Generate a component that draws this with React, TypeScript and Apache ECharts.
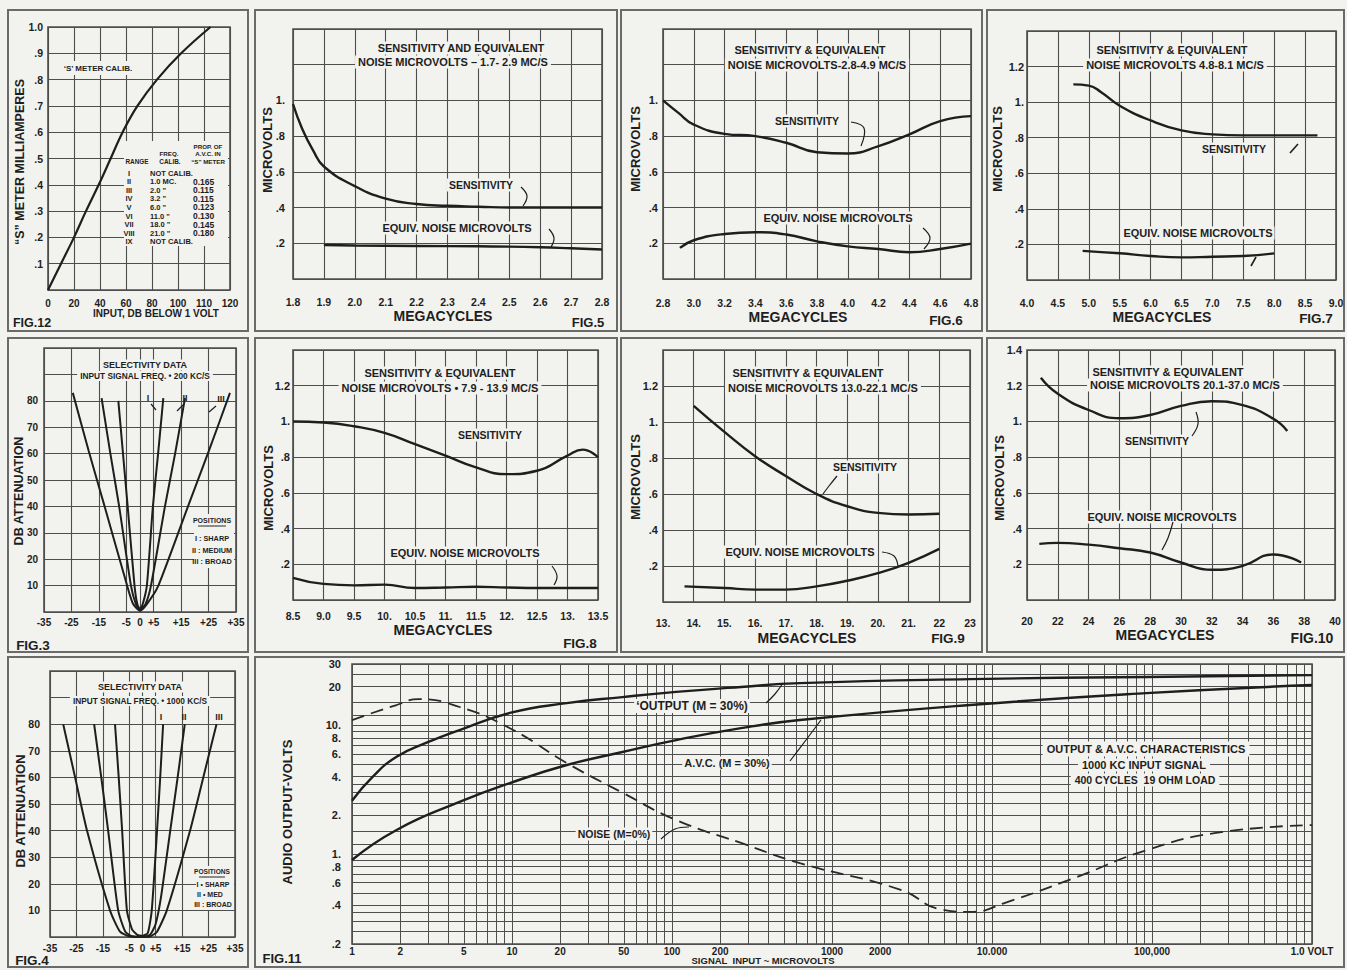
import React, { useEffect, useRef } from 'react';
import * as echarts from 'echarts';

const W = 1347;
const H = 970;
const BG = '#f2f2ee';
const INK = '#1e1e1e';
const GRID_C = '#4e4e4e';
const BORDER_C = '#6a6a6a';
const FONT = '"Liberation Sans", Arial, sans-serif';

// ---------- FIG. 12  S-meter calibration ----------
const FIG12_X_LABELS = ['0', '20', '40', '60', '80', '100', '110', '120'];
const FIG12_Y_LABELS = ['', '.1', '.2', '.3', '.4', '.5', '.6', '.7', '.8', '.9', '1.0'];
const SMETER_POS = [0, 0.5, 1.0, 1.46, 1.95, 2.41, 2.87, 3.44, 4.19, 5.12, 6.25];
const SMETER_MA = [0, 0.1, 0.2, 0.3, 0.4, 0.5, 0.6, 0.7, 0.8, 0.9, 1.0];
const SMETER_RANGE = ['I', 'II', 'III', 'IV', 'V', 'VI', 'VII', 'VIII', 'IX'];
const SMETER_FREQ = ['NOT CALIB.', '1.0 MC.', '2.0 "', '3.2 "', '6.0 "', '11.0 "', '18.0 "', '21.0 "', 'NOT CALIB.'];
const SMETER_PROP = ['', '0.165', '0.115', '0.115', '0.123', '0.130', '0.145', '0.180', ''];

// ---------- sensitivity y labels ----------
const UV_LABELS_A = ['', '.2', '.4', '.6', '.8', '1.', '', ''];
const UV_LABELS_B = ['', '.2', '.4', '.6', '.8', '1.', '1.2', ''];
const UV_LABELS_C = ['', '.2', '.4', '.6', '.8', '1.', '1.2', '1.4'];

// ---------- FIG. 5 ----------
const FIG5_X_LABELS = ['1.8', '1.9', '2.0', '2.1', '2.2', '2.3', '2.4', '2.5', '2.6', '2.7', '2.8'];
const FIG5_SENS_MC = [1.8, 1.83, 1.865, 1.9, 2.0, 2.1, 2.2, 2.3, 2.4, 2.5, 2.6, 2.7, 2.8];
const FIG5_SENS_UV = [0.98, 0.84, 0.72, 0.63, 0.52, 0.45, 0.42, 0.41, 0.405, 0.4, 0.4, 0.4, 0.4];
const FIG5_NOISE_MC = [1.9, 2.0, 2.2, 2.4, 2.6, 2.7, 2.8];
const FIG5_NOISE_UV = [0.19, 0.188, 0.185, 0.183, 0.178, 0.172, 0.165];

// ---------- FIG. 6 ----------
const FIG6_X_LABELS = ['2.8', '3.0', '3.2', '3.4', '3.6', '3.8', '4.0', '4.2', '4.4', '4.6', '4.8'];
const FIG6_SENS_MC = [2.8, 2.9, 3.0, 3.2, 3.4, 3.6, 3.8, 4.0, 4.2, 4.4, 4.6, 4.8];
const FIG6_SENS_UV = [1.0, 0.93, 0.865, 0.813, 0.8, 0.763, 0.71, 0.703, 0.744, 0.81, 0.884, 0.912];
const FIG6_NOISE_MC = [2.91, 3.0, 3.2, 3.4, 3.6, 3.8, 4.0, 4.2, 4.4, 4.6, 4.8];
const FIG6_NOISE_UV = [0.174, 0.217, 0.252, 0.262, 0.249, 0.211, 0.183, 0.168, 0.15, 0.168, 0.198];

// ---------- FIG. 7 ----------
const FIG7_X_LABELS = ['4.0', '4.5', '5.0', '5.5', '6.0', '6.5', '7.0', '7.5', '8.0', '8.5', '9.0'];
const FIG7_SENS_MC = [4.75, 5.0, 5.2, 5.5, 6.0, 6.5, 7.0, 7.5, 8.0, 8.7];
const FIG7_SENS_UV = [1.1, 1.093, 1.056, 0.98, 0.897, 0.841, 0.819, 0.813, 0.813, 0.813];
const FIG7_NOISE_MC = [4.9, 5.5, 6.0, 6.5, 7.0, 7.5, 8.0];
const FIG7_NOISE_UV = [0.164, 0.15, 0.135, 0.127, 0.131, 0.135, 0.15];

// ---------- FIG. 8 ----------
const FIG8_X_LABELS = ['8.5', '9.0', '9.5', '10.', '10.5', '11.', '11.5', '12.', '12.5', '13.', '13.5'];
const FIG8_SENS_MC = [8.5, 9.0, 9.5, 10.0, 10.5, 11.0, 11.5, 12.0, 12.5, 13.0, 13.25, 13.5];
const FIG8_SENS_UV = [1.0, 0.994, 0.973, 0.936, 0.873, 0.809, 0.743, 0.705, 0.724, 0.809, 0.842, 0.8];
const FIG8_NOISE_MC = [8.5, 9.0, 9.5, 10.0, 10.5, 11.0, 11.5, 12.0, 12.5, 13.0, 13.5];
const FIG8_NOISE_UV = [0.124, 0.09, 0.082, 0.086, 0.067, 0.07, 0.074, 0.07, 0.067, 0.067, 0.067];

// ---------- FIG. 9 ----------
const FIG9_X_LABELS = ['13.', '14.', '15.', '16.', '17.', '18.', '19.', '20.', '21.', '22', '23'];
const FIG9_SENS_MC = [14, 15, 16, 17, 18, 19, 20, 21, 22];
const FIG9_SENS_UV = [1.09, 0.945, 0.81, 0.7, 0.6, 0.532, 0.495, 0.486, 0.49];
const FIG9_NOISE_MC = [13.7, 15, 16, 17, 18, 19, 20, 21, 22];
const FIG9_NOISE_UV = [0.087, 0.078, 0.069, 0.069, 0.087, 0.118, 0.16, 0.218, 0.295];

// ---------- FIG. 10 ----------
const FIG10_X_LABELS = ['20', '22', '24', '26', '28', '30', '32', '34', '36', '38', '40'];
const FIG10_SENS_MC = [20.9, 22, 24, 26, 28, 30, 32, 34, 36, 36.9];
const FIG10_SENS_UV = [1.245, 1.155, 1.064, 1.018, 1.036, 1.087, 1.113, 1.091, 1.015, 0.947];
const FIG10_NOISE_MC = [20.8, 22, 24, 26, 28, 30, 32, 34, 36, 37.8];
const FIG10_NOISE_UV = [0.314, 0.32, 0.31, 0.29, 0.266, 0.21, 0.169, 0.191, 0.255, 0.21];

// ---------- FIG. 3 / FIG. 4  selectivity ----------
const SEL_X_TICKS = [-35, -25, -15, -5, 0, 5, 15, 25, 35];
const SEL_Y_LABELS = ['', '10', '20', '30', '40', '50', '60', '70', '80', '', ''];
const FIG3_I_KC = [-7.9, -6.2, -4.5, -2, -1, 0, 1, 2.5, 4.7, 6.6, 8.5];
const FIG3_I_DB = [80, 60, 40, 10, 3, 1, 3, 10, 40, 60, 81];
const FIG3_II_KC = [-14, -10.8, -7.6, -3.3, -1.5, 0, 2, 4, 9.1, 12.8, 16.4];
const FIG3_II_DB = [81, 60, 40, 10, 3, 1, 3, 10, 40, 60, 81];
const FIG3_III_KC = [-24.5, -18.7, -12.9, -4.7, -2.5, 0, 2.5, 6.7, 17.5, 25.1, 32.8];
const FIG3_III_DB = [83, 61, 40, 10, 3, 0.5, 3, 10, 40, 61, 83];
const FIG4_I_KC = [-10.4, -9.0, -7.7, -5.9, -4, -2, 0, 2, 3.5, 5.5, 6.7, 7.8];
const FIG4_I_DB = [80, 60, 40, 10, 3, 0.8, 0.5, 1.5, 10, 40, 60, 80];
const FIG4_II_KC = [-18.3, -15.6, -13, -9.2, -6.5, -4, 0, 3, 5, 7, 10.5, 13.3, 16];
const FIG4_II_DB = [80, 60, 40, 10, 2, 0.3, 0, 1, 5, 15, 40, 60, 80];
const FIG4_III_KC = [-30, -25.5, -21, -12.3, -8.5, -5, 0, 3, 5.5, 9.2, 18, 23, 28];
const FIG4_III_DB = [80, 60, 40, 10, 2, 0.3, 0, 0.3, 2, 10, 40, 60, 80];

// ---------- FIG. 11  output & AVC (log-log) ----------
const FIG11_X_LABEL_VALUES = [1, 2, 5, 10, 20, 50, 100, 200, 1000, 2000, 10000, 100000, 1000000];
const FIG11_X_LABELS = ['1', '2', '5', '10', '20', '50', '100', '200', '1000', '2000', '10.000', '100,000', '1.0 VOLT'];
const FIG11_Y_LABEL_VALUES = [30, 20, 10, 8, 6, 4, 2, 1, 0.8, 0.6, 0.4, 0.2];
const FIG11_Y_LABELS = ['30', '20', '10.', '8.', '6.', '4.', '2.', '1.', '.8', '.6', '.4', '.2'];
const FIG11_Y_GRID = [0.2, 0.25, 0.3, 0.35, 0.4, 0.5, 0.6, 0.7, 0.8, 0.9, 1, 1.2, 1.5, 2, 2.5, 3, 3.5, 4, 5, 6, 7, 8, 9, 10, 12, 15, 20, 25, 30];
const FIG11_X_MANTISSAS = [1, 2, 3, 4, 5, 6, 7, 8, 9];
const OUT_UV = [1, 1.35, 1.9, 2.9, 4.7, 9.7, 22, 49, 106, 270, 630, 7300, 92000, 1000000];
const OUT_V = [2.6, 4.0, 5.7, 7.3, 9.2, 12.5, 14.9, 16.6, 18.2, 19.9, 21.3, 22.9, 23.8, 24.6];
const AVC_UV = [1, 1.9, 4.7, 9.7, 22, 49, 106, 270, 630, 7300, 92000, 1000000];
const AVC_V = [0.9, 1.54, 2.54, 3.56, 4.92, 6.21, 7.69, 9.53, 11.0, 14.4, 17.8, 20.6];
const NOISE_UV = [1, 1.9, 2.6, 4.7, 9.7, 22, 49, 106, 270, 630, 2660, 4870, 7300, 12200, 33500, 92000, 251000, 1000000];
const NOISE_V = [11.0, 14.4, 16.0, 13.9, 9.5, 5.1, 3.0, 1.84, 1.22, 0.85, 0.53, 0.37, 0.355, 0.42, 0.66, 1.07, 1.46, 1.68];

const lg = (v: number) => Math.log10(v);
const byIndex = (labels: string[], min: number, step: number) => (v: number) =>
  labels[Math.round((v - min) / step)] ?? '';
const nearest = (vals: number[], labels: string[]) => (v: number) => {
  let bi = 0;
  let bd = Infinity;
  vals.forEach((a, i) => {
    const d = Math.abs(a - v);
    if (d < bd) { bd = d; bi = i; }
  });
  return labels[bi];
};
const signed = (v: number) => (v > 0 ? '+' + v : String(v));

function buildOption() {
  const grids: any[] = [];
  const xAxes: any[] = [];
  const yAxes: any[] = [];
  const series: any[] = [];

  const labelStyle = (size: number, margin: number) => ({
    color: INK, fontFamily: FONT, fontWeight: 'bold', fontSize: size, margin,
    showMinLabel: true, showMaxLabel: true, hideOverlap: false,
  });

  function panel(p: any) {
    const gi = grids.length;
    grids.push({
      left: p.box[0], top: p.box[1], width: p.box[2], height: p.box[3],
      show: true, borderColor: GRID_C, borderWidth: 1.6, backgroundColor: 'transparent',
      containLabel: false, outerBoundsMode: 'none',
    });
    for (const [list, a] of [[xAxes, p.x], [yAxes, p.y]] as any) {
      list.push({
        type: 'value', gridIndex: gi, min: a.min, max: a.max,
        ...(a.interval !== undefined ? { interval: a.interval } : {}),
        axisLine: { show: false },
        axisTick: { show: false, ...(a.ticks ? { customValues: a.ticks } : {}) },
        splitLine: { show: true, lineStyle: { color: GRID_C, width: a.lw ?? 1.1 } },
        axisLabel: { ...labelStyle(a.size ?? 10.5, a.margin), formatter: a.fmt, ...(a.labelValues ? { customValues: a.labelValues } : {}) },
      });
    }
    return gi;
  }

  function line(gi: number, xs: number[], ys: number[], extra: any = {}) {
    series.push({
      type: 'line', xAxisIndex: gi, yAxisIndex: gi, silent: true, z: 5,
      data: xs.map((x, i) => [x, ys[i]]), symbol: 'none', showSymbol: false,
      smooth: 0.5, lineStyle: { color: INK, width: 2.4 }, ...extra,
    });
  }

  // FIG 12
  const g12 = panel({
    box: [48, 27, 182, 263],
    x: { min: 0, max: 7, interval: 1, fmt: byIndex(FIG12_X_LABELS, 0, 1), margin: 8, size: 10 },
    y: { min: 0, max: 1, interval: 0.1, fmt: byIndex(FIG12_Y_LABELS, 0, 0.1), margin: 5, size: 10.5 },
  });
  line(g12, SMETER_POS, SMETER_MA, { smooth: 0.4, lineStyle: { color: INK, width: 2.2 } });

  const uvAxis = (labels: string[], margin: number) => ({ min: 0, max: 1.4, interval: 0.2, fmt: byIndex(labels, 0, 0.2), margin, size: 11 });

  // FIG 5
  const g5 = panel({
    box: [293, 29, 309, 250],
    x: { min: 1.8, max: 2.8, interval: 0.1, fmt: byIndex(FIG5_X_LABELS, 1.8, 0.1), margin: 17 },
    y: uvAxis(UV_LABELS_A, 8),
  });
  line(g5, FIG5_SENS_MC, FIG5_SENS_UV);
  line(g5, FIG5_NOISE_MC, FIG5_NOISE_UV);

  // FIG 6
  const g6 = panel({
    box: [663, 29, 308, 250],
    x: { min: 2.8, max: 4.8, interval: 0.2, fmt: byIndex(FIG6_X_LABELS, 2.8, 0.2), margin: 18 },
    y: uvAxis(UV_LABELS_A, 5),
  });
  line(g6, FIG6_SENS_MC, FIG6_SENS_UV);
  line(g6, FIG6_NOISE_MC, FIG6_NOISE_UV);

  // FIG 7
  const g7 = panel({
    box: [1027, 31, 309, 249],
    x: { min: 4.0, max: 9.0, interval: 0.5, fmt: byIndex(FIG7_X_LABELS, 4.0, 0.5), margin: 17 },
    y: uvAxis(UV_LABELS_B, 3),
  });
  line(g7, FIG7_SENS_MC, FIG7_SENS_UV);
  line(g7, FIG7_NOISE_MC, FIG7_NOISE_UV);

  const selStyle = { smooth: 0.2, lineStyle: { color: INK, width: 2 } };

  // FIG 3
  const g3 = panel({
    box: [44, 348, 192, 264],
    x: { min: -35, max: 35, ticks: SEL_X_TICKS, labelValues: SEL_X_TICKS, fmt: signed, margin: 5, size: 10 },
    y: { min: 0, max: 100, interval: 10, fmt: byIndex(SEL_Y_LABELS, 0, 10), margin: 6, size: 10 },
  });
  line(g3, FIG3_I_KC, FIG3_I_DB, selStyle);
  line(g3, FIG3_II_KC, FIG3_II_DB, selStyle);
  line(g3, FIG3_III_KC, FIG3_III_DB, selStyle);

  // FIG 8
  const g8 = panel({
    box: [293, 350, 305, 250],
    x: { min: 8.5, max: 13.5, interval: 0.5, fmt: byIndex(FIG8_X_LABELS, 8.5, 0.5), margin: 10 },
    y: uvAxis(UV_LABELS_B, 3),
  });
  line(g8, FIG8_SENS_MC, FIG8_SENS_UV);
  line(g8, FIG8_NOISE_MC, FIG8_NOISE_UV);

  // FIG 9
  const g9 = panel({
    box: [663, 350, 307, 252],
    x: { min: 13, max: 23, interval: 1, fmt: byIndex(FIG9_X_LABELS, 13, 1), margin: 15 },
    y: uvAxis(UV_LABELS_B, 5),
  });
  line(g9, FIG9_SENS_MC, FIG9_SENS_UV);
  line(g9, FIG9_NOISE_MC, FIG9_NOISE_UV);

  // FIG 10
  const g10 = panel({
    box: [1027, 350, 308, 250],
    x: { min: 20, max: 40, interval: 2, fmt: byIndex(FIG10_X_LABELS, 20, 2), margin: 15 },
    y: uvAxis(UV_LABELS_C, 5),
  });
  line(g10, FIG10_SENS_MC, FIG10_SENS_UV);
  line(g10, FIG10_NOISE_MC, FIG10_NOISE_UV);

  // FIG 4
  const g4 = panel({
    box: [50, 671, 185, 266],
    x: { min: -35, max: 35, ticks: SEL_X_TICKS, labelValues: SEL_X_TICKS, fmt: signed, margin: 6, size: 10 },
    y: { min: 0, max: 100, interval: 10, fmt: byIndex(SEL_Y_LABELS, 0, 10), margin: 10, size: 10.5 },
  });
  line(g4, FIG4_I_KC, FIG4_I_DB, selStyle);
  line(g4, FIG4_II_KC, FIG4_II_DB, selStyle);
  line(g4, FIG4_III_KC, FIG4_III_DB, selStyle);

  // FIG 11
  const xGrid: number[] = [];
  for (let k = 0; k < 6; k++) FIG11_X_MANTISSAS.forEach((m) => xGrid.push(lg(m) + k));
  xGrid.push(6);
  const xLabLog = FIG11_X_LABEL_VALUES.map(lg);
  const yLabLog = FIG11_Y_LABEL_VALUES.map(lg);
  const g11 = panel({
    box: [352, 664, 960, 280],
    x: { min: 0, max: 6, ticks: xGrid, labelValues: xLabLog, fmt: nearest(xLabLog, FIG11_X_LABELS), margin: 2, size: 10, lw: 1 },
    y: { min: lg(0.2), max: lg(30), ticks: FIG11_Y_GRID.map(lg), labelValues: yLabLog, fmt: nearest(yLabLog, FIG11_Y_LABELS), margin: 11, size: 11, lw: 1 },
  });
  line(g11, OUT_UV.map(lg), OUT_V.map(lg), { lineStyle: { color: INK, width: 2.4 } });
  line(g11, AVC_UV.map(lg), AVC_V.map(lg), { lineStyle: { color: INK, width: 2.4 } });
  line(g11, NOISE_UV.map(lg), NOISE_V.map(lg), { lineStyle: { color: '#2a2a2a', width: 1.8, type: [13, 7] } });

  // ---------- graphic: frames, titles, annotations ----------
  const els: any[] = [];
  const frame = (x: number, y: number, w: number, h: number) =>
    els.push({ type: 'rect', z: 1, shape: { x, y, width: w, height: h }, style: { fill: 'none', stroke: BORDER_C, lineWidth: 2 } });
  const txt = (x: number, y: number, text: string, size = 10.5, o: any = {}) =>
    els.push({
      type: 'text', z: 100, x, y, rotation: o.rot ?? 0,
      style: {
        text, fill: INK, fontFamily: FONT, fontWeight: 'bold', fontSize: size,
        align: o.align ?? 'center', verticalAlign: 'middle',
        textAlign: o.align ?? 'center', textVerticalAlign: 'middle',
        ...(o.bg ? { backgroundColor: BG, padding: o.pad ?? [1, 3] } : {}),
      },
    });
  const hook = (pts: number[][], w = 1.2) =>
    els.push({ type: 'polyline', z: 100, shape: { points: pts, smooth: 0.4 }, style: { stroke: INK, lineWidth: w, fill: 'none' } });
  const blank = (x: number, y: number, w: number, h: number) =>
    els.push({ type: 'rect', z: 90, shape: { x, y, width: w, height: h }, style: { fill: BG } });
  const R = Math.PI / 2;

  // frames
  frame(8, 10, 240, 321); frame(255, 10, 362, 321); frame(621, 10, 361, 321); frame(987, 10, 357, 321);
  frame(8, 338, 240, 314); frame(255, 338, 362, 314); frame(621, 338, 361, 314); frame(987, 338, 357, 314);
  frame(8, 657, 240, 310); frame(255, 657, 1089, 310);

  // FIG 12
  txt(98, 68, '\u2018S\u2019 METER CALIB.', 8, { bg: true, pad: [3, 6] });
  blank(124, 141, 104, 105);
  txt(208, 146, 'PROP. OF', 6.2);
  txt(169, 153, 'FREQ.', 6.2);
  txt(208, 153, 'A.V.C. IN', 6.2);
  txt(137, 161, 'RANGE', 6.4);
  txt(170, 161, 'CALIB.', 6.4);
  txt(208, 161, '\u201CS\u201D METER', 6.2);
  SMETER_RANGE.forEach((r, i) => {
    const y = 173 + i * 8.6;
    txt(129, y, r, 7.5);
    txt(150, y, SMETER_FREQ[i], 7.5, { align: 'left' });
    if (SMETER_PROP[i]) txt(193, y, SMETER_PROP[i], 8.5, { align: 'left' });
  });
  txt(20, 162, '\u201CS\u201D METER MILLIAMPERES', 12.5, { rot: R });
  txt(156, 313, 'INPUT, DB BELOW 1 VOLT', 10);
  txt(32, 323, 'FIG.12', 12.5);

  // FIG 5
  txt(461, 48, 'SENSITIVITY AND EQUIVALENT', 11, { bg: true });
  txt(453, 62, 'NOISE MICROVOLTS \u2013 1.7- 2.9 MC/S', 11, { bg: true });
  txt(481, 185, 'SENSITIVITY', 10.5, { bg: true, pad: [1, 2] });
  txt(457, 228, 'EQUIV. NOISE MICROVOLTS', 11, { bg: true, pad: [1, 2] });
  hook([[521, 187], [527, 196], [523, 206]]);
  hook([[549, 229], [554, 238], [551, 247]]);
  txt(267, 150, 'MICROVOLTS', 13, { rot: R });
  txt(443, 316, 'MEGACYCLES', 14);
  txt(588, 322, 'FIG.5', 13);

  // FIG 6
  txt(810, 50, 'SENSITIVITY & EQUIVALENT', 11, { bg: true });
  txt(817, 65, 'NOISE MICROVOLTS-2.8-4.9 MC/S', 11, { bg: true });
  txt(807, 121, 'SENSITIVITY', 10.5, { bg: true, pad: [1, 2] });
  txt(838, 218, 'EQUIV. NOISE MICROVOLTS', 11, { bg: true, pad: [1, 2] });
  hook([[851, 122], [864, 128], [861, 146]]);
  hook([[923, 228], [930, 238], [924, 249]]);
  txt(635, 149, 'MICROVOLTS', 13, { rot: R });
  txt(798, 317, 'MEGACYCLES', 14);
  txt(946, 320, 'FIG.6', 13.5);

  // FIG 7
  txt(1172, 50, 'SENSITIVITY & EQUIVALENT', 11, { bg: true });
  txt(1175, 65, 'NOISE MICROVOLTS 4.8-8.1 MC/S', 11, { bg: true });
  txt(1234, 149, 'SENSITIVITY', 10.5, { bg: true, pad: [1, 2] });
  txt(1198, 233, 'EQUIV. NOISE MICROVOLTS', 11, { bg: true, pad: [1, 2] });
  hook([[1290, 153], [1298, 144]], 1.6);
  hook([[1251, 266], [1256, 257]], 1.6);
  txt(997, 149, 'MICROVOLTS', 13, { rot: R });
  txt(1162, 317, 'MEGACYCLES', 14);
  txt(1316, 318, 'FIG.7', 13.5);

  // FIG 3
  txt(145, 365, 'SELECTIVITY DATA', 9, { bg: true });
  txt(145, 376, 'INPUT SIGNAL FREQ. \u2022 200 KC/S', 8.3, { bg: true });
  txt(148, 398, 'I', 9); txt(185, 398, 'II', 9); txt(221, 399, 'III', 9);
  hook([[151, 404], [156, 410]]); hook([[183, 405], [177, 411]]); hook([[216, 406], [209, 412]]);
  blank(194, 514, 40, 54);
  txt(212, 520, 'POSITIONS', 7);
  hook([[198, 526], [226, 526]], 1);
  txt(212, 538, 'I : SHARP', 7.3);
  txt(212, 550, 'II : MEDIUM', 7.3);
  txt(212, 561, 'III : BROAD', 7.3);
  txt(19, 491, 'DB ATTENUATION', 12.5, { rot: R });
  txt(33, 645, 'FIG.3', 13.5);

  // FIG 8
  txt(440, 373, 'SENSITIVITY & EQUIVALENT', 11, { bg: true });
  txt(440, 388, 'NOISE MICROVOLTS \u2022 7.9 - 13.9 MC/S', 11, { bg: true });
  txt(490, 435, 'SENSITIVITY', 10.5, { bg: true, pad: [1, 2] });
  txt(465, 553, 'EQUIV. NOISE MICROVOLTS', 11, { bg: true, pad: [1, 2] });
  hook([[552, 566], [557, 576], [554, 585]]);
  txt(268, 488, 'MICROVOLTS', 13, { rot: R });
  txt(443, 630, 'MEGACYCLES', 14);
  txt(580, 643, 'FIG.8', 13.5);

  // FIG 9
  txt(808, 373, 'SENSITIVITY & EQUIVALENT', 11, { bg: true });
  txt(823, 388, 'NOISE MICROVOLTS 13.0-22.1 MC/S', 11, { bg: true });
  txt(865, 467, 'SENSITIVITY', 10.5, { bg: true, pad: [1, 2] });
  txt(800, 552, 'EQUIV. NOISE MICROVOLTS', 11, { bg: true, pad: [1, 2] });
  hook([[837, 476], [829, 486], [823, 494]]);
  hook([[882, 552], [894, 556], [898, 566]]);
  txt(635, 477, 'MICROVOLTS', 13, { rot: R });
  txt(807, 638, 'MEGACYCLES', 14);
  txt(948, 638, 'FIG.9', 13.5);

  // FIG 10
  txt(1168, 372, 'SENSITIVITY & EQUIVALENT', 11, { bg: true });
  txt(1185, 385, 'NOISE MICROVOLTS 20.1-37.0 MC/S', 11, { bg: true });
  txt(1157, 441, 'SENSITIVITY', 10.5, { bg: true, pad: [1, 2] });
  txt(1162, 517, 'EQUIV. NOISE MICROVOLTS', 11, { bg: true, pad: [1, 2] });
  hook([[1192, 436], [1198, 424], [1196, 412]]);
  hook([[1173, 522], [1168, 538], [1162, 550]]);
  txt(999, 478, 'MICROVOLTS', 13, { rot: R });
  txt(1165, 635, 'MEGACYCLES', 14);
  txt(1312, 638, 'FIG.10', 14);

  // FIG 4
  txt(140, 687, 'SELECTIVITY DATA', 9, { bg: true });
  txt(140, 701, 'INPUT SIGNAL FREQ. \u2022 1000 KC/S', 8.3, { bg: true });
  txt(161, 717, 'I', 9); txt(184, 717, 'II', 9); txt(219, 717, 'III', 9);
  blank(196, 866, 38, 44);
  txt(212, 871, 'POSITIONS', 6.6);
  hook([[199, 877], [225, 877]], 1);
  txt(213, 884, 'I \u2022 SHARP', 7);
  txt(210, 894, 'II \u2022 MED', 7);
  txt(213, 904, 'III : BROAD', 7);
  txt(20, 811, 'DB ATTENUATION', 13, { rot: R });
  txt(32, 960, 'FIG.4', 13.5);

  // FIG 11
  txt(287, 812, 'AUDIO OUTPUT-VOLTS', 13, { rot: R });
  txt(282, 958, 'FIG.11', 13);
  txt(763, 960, 'SIGNAL  INPUT ~ MICROVOLTS', 9.5);
  txt(692, 706, '\u2018OUTPUT (M = 30%)', 12, { bg: true, pad: [1, 2] });
  txt(727, 763, 'A.V.C. (M = 30%)', 11, { bg: true, pad: [1, 2] });
  txt(614, 834, 'NOISE (M=0%)', 10.5, { bg: true, pad: [1, 2] });
  hook([[766, 703], [775, 694], [783, 683]]);
  hook([[790, 761], [806, 740], [821, 720]]);
  hook([[661, 839], [675, 829], [689, 827]]);
  txt(1146, 749, 'OUTPUT & A.V.C. CHARACTERISTICS', 11, { bg: true, pad: [2, 4] });
  txt(1144, 765, '1000 KC INPUT SIGNAL', 11, { bg: true, pad: [1, 4] });
  txt(1145, 780, '400 CYCLES  19 OHM LOAD', 10.5, { bg: true, pad: [1, 4] });

  return {
    animation: false,
    backgroundColor: BG,
    grid: grids,
    xAxis: xAxes,
    yAxis: yAxes,
    series,
    graphic: { elements: els },
  };
}

export default function App() {
  const ref = useRef<HTMLDivElement>(null);
  useEffect(() => {
    document.body.style.margin = '0';
    const chart = echarts.init(ref.current as HTMLDivElement, null, { renderer: 'svg', width: W, height: H });
    chart.setOption(buildOption() as any);
    return () => chart.dispose();
  }, []);
  return (
    <div
      ref={ref}
      style={{ position: 'absolute', left: 0, top: 0, width: W, height: H, background: BG }}
    />
  );
}
